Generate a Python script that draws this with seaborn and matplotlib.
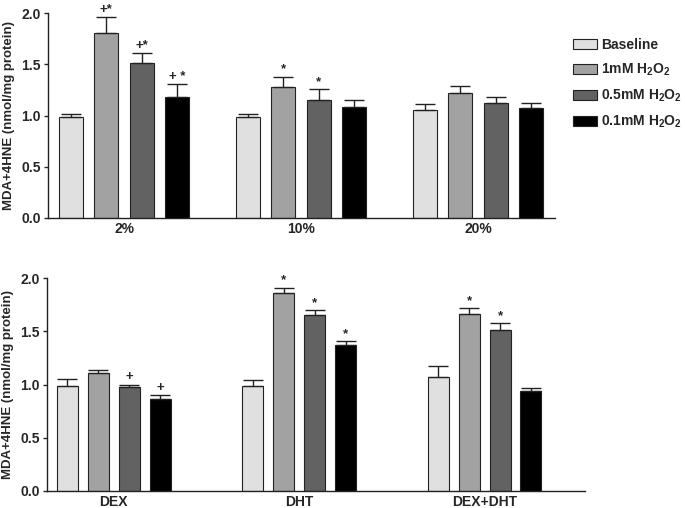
import numpy as np
import pandas as pd
import seaborn as sns
import matplotlib.pyplot as plt
from matplotlib.patches import Patch

treatments = ['Baseline', '1mM H$_2$O$_2$', '0.5mM H$_2$O$_2$', '0.1mM H$_2$O$_2$']
colors = ['#e0e0e0', '#a2a2a2', '#626262', '#000000']

# top panel: oxygen level
top_groups = ['2%', '10%', '20%']
top_baseline = [0.99, 0.99, 1.05]
top_1mm = [1.81, 1.28, 1.22]
top_05mm = [1.51, 1.15, 1.12]
top_01mm = [1.18, 1.08, 1.07]
top_err_baseline = [0.03, 0.03, 0.06]
top_err_1mm = [0.15, 0.10, 0.07]
top_err_05mm = [0.10, 0.11, 0.06]
top_err_01mm = [0.13, 0.07, 0.05]
top_marks = [['', '', ''], ['+*', '*', ''], ['+*', '*', ''], ['+ *', '', '']]

# bottom panel: hormone treatment
bot_groups = ['DEX', 'DHT', 'DEX+DHT']
bot_baseline = [0.99, 0.99, 1.07]
bot_1mm = [1.11, 1.86, 1.66]
bot_05mm = [0.98, 1.65, 1.51]
bot_01mm = [0.86, 1.37, 0.94]
bot_err_baseline = [0.06, 0.05, 0.10]
bot_err_1mm = [0.03, 0.05, 0.06]
bot_err_05mm = [0.02, 0.05, 0.07]
bot_err_01mm = [0.04, 0.04, 0.03]
bot_marks = [['', '', ''], ['', '*', '*'], ['+', '*', '*'], ['+', '*', '']]

sns.set_style('ticks')
plt.rcParams['font.family'] = ['Liberation Sans', 'DejaVu Sans']
plt.rcParams['font.weight'] = 'bold'
plt.rcParams['mathtext.default'] = 'bf'
plt.rcParams['mathtext.fontset'] = 'custom'
plt.rcParams['mathtext.bf'] = 'Liberation Sans:bold'


def long_form(groups, series):
    rows = []
    for t, vals in zip(treatments, series):
        for g, v in zip(groups, vals):
            rows.append({'group': g, 'treatment': t, 'value': v})
    return pd.DataFrame(rows)


def draw_panel(ax, groups, series, errs, marks, width, xlim):
    df = long_form(groups, series)
    sns.barplot(data=df, x='group', y='value', hue='treatment', order=groups,
                hue_order=treatments, palette=colors, width=width, gap=0.32,
                edgecolor='#222222', linewidth=0.8, errorbar=None, legend=False, ax=ax)
    for cont, err, mk in zip(ax.containers, errs, marks):
        xs = [b.get_x() + b.get_width() / 2 for b in cont]
        hs = [b.get_height() for b in cont]
        ax.errorbar(xs, hs, yerr=[np.zeros(len(err)), err], fmt='none',
                    ecolor='#222222', elinewidth=1, capsize=7.5, capthick=1)
        for x, h, e, m in zip(xs, hs, err, mk):
            if m:
                ax.text(x, h + e + 0.01, m, ha='center', va='bottom',
                        fontsize=9.5, fontweight='bold', clip_on=False)
    ax.set_xlim(*xlim)
    ax.set_ylim(0, 2.0)
    ax.set_yticks([0, 0.5, 1.0, 1.5, 2.0])
    ax.set_yticklabels(['0.0', '0.5', '1.0', '1.5', '2.0'], fontsize=10, fontweight='bold')
    ax.set_xticks(range(len(groups)))
    ax.set_xticklabels(groups, fontsize=10, fontweight='bold')
    ax.tick_params(axis='x', length=0, pad=3)
    ax.tick_params(axis='y', length=3, width=1, pad=2)
    ax.set_xlabel('')
    ax.set_ylabel('MDA+4HNE (nmol/mg protein)', fontsize=9.5, fontweight='bold', labelpad=5)
    for s in ['left', 'bottom']:
        ax.spines[s].set_linewidth(1)
        ax.spines[s].set_color('#222222')
    sns.despine(ax=ax)


fig = plt.figure(figsize=(6.85, 5.08), dpi=100)
ax1 = fig.add_axes([0.070, 0.571, 0.740, 0.403])
ax2 = fig.add_axes([0.0686, 0.0335, 0.785, 0.419])

draw_panel(ax1, top_groups, [top_baseline, top_1mm, top_05mm, top_01mm],
           [top_err_baseline, top_err_1mm, top_err_05mm, top_err_01mm],
           top_marks, 0.8, (-0.43, 2.435))
draw_panel(ax2, bot_groups, [bot_baseline, bot_1mm, bot_05mm, bot_01mm],
           [bot_err_baseline, bot_err_1mm, bot_err_05mm, bot_err_01mm],
           bot_marks, 0.667, (-0.36, 2.54))

handles = [Patch(facecolor=c, edgecolor='#222222', linewidth=0.8) for c in colors]
fig.legend(handles, treatments, loc='upper left', bbox_to_anchor=(0.836, 0.925),
           frameon=False, prop={'weight': 'bold', 'size': 10},
           handlelength=1.75, handleheight=0.75, handletextpad=0.3, labelspacing=0.7,
           borderpad=0, borderaxespad=0)

fig.savefig('out.png', dpi=100)
